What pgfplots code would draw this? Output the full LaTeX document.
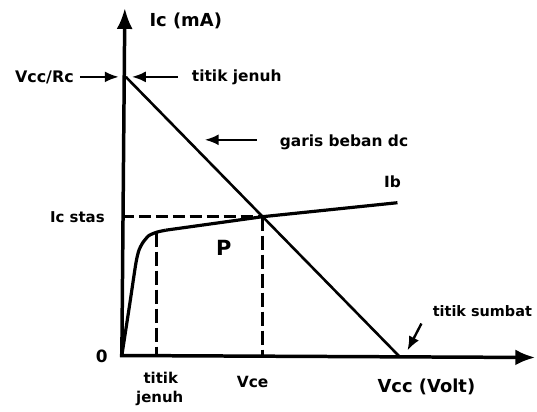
\documentclass[border=0pt]{standalone}
\usepackage{pgfplots}
\pgfplotsset{compat=1.18}
\usepackage{fontspec}
\setmainfont{DejaVu Sans}
\usetikzlibrary{arrows.meta}
\newcommand{\fs}[1]{\fontsize{#1}{#1}\selectfont\bfseries}
\begin{document}
\begin{tikzpicture}
\begin{axis}[scale only axis, width=537bp, height=412bp,
  xmin=0, xmax=537, ymin=0, ymax=412, hide axis, clip=false]
% frame for bounding box
\addplot[draw=none] coordinates {(0,0) (537,412)};
% axes
\addplot[line width=3.5bp, -{Latex[length=21bp,width=16bp]}] coordinates {(122,55) (125,404)};
\addplot[line width=3.5bp, -{Latex[length=20bp,width=16bp]}] coordinates {(120,56) (536,54)};
% load line
\addplot[line width=2.6bp] coordinates {(126,335) (400,55)};
% dashed guides
\addplot[line width=2.8bp, dash pattern=on 12bp off 5bp] coordinates {(122,195) (263,195)};
\addplot[line width=2.8bp, dash pattern=on 14bp off 5bp] coordinates {(263,195) (263,56)};
\addplot[line width=2.8bp, dash pattern=on 14bp off 5bp] coordinates {(157,179) (157,56)};
% Ib curve
\addplot[line width=3.2bp, line join=round, smooth, tension=0.4] coordinates {
 (122,56) (130,108) (136,148) (139,161) (143,169) (149,176) (157,179.5) (166,181.5)};
\addplot[line width=3.2bp, line join=round] coordinates {(166,181.5) (263,195) (398,209)};
% annotation arrows
\addplot[line width=2.4bp, -{Latex[length=14bp,width=11bp]}] coordinates {(80,335) (119,335)};
\addplot[line width=2.4bp, -{Latex[length=14bp,width=11bp]}] coordinates {(178,335) (132,335)};
\addplot[line width=2.4bp, -{Latex[length=14bp,width=11bp]}] coordinates {(257,272) (205,272)};
\addplot[line width=2.4bp, -{Latex[length=14bp,width=11bp]}] coordinates {(422,88) (408,61)};
% labels
\node[anchor=base, inner sep=0pt] at (axis cs:186,385) {\fs{18}Ic (mA)};
\node[anchor=base east, inner sep=0pt] at (axis cs:74,329) {\fs{16}Vcc/Rc};
\node[anchor=base west, inner sep=0pt] at (axis cs:192,330) {\fs{15.5}titik jenuh};
\node[anchor=base west, inner sep=0pt] at (axis cs:280,265) {\fs{15.5}garis beban dc};
\node[anchor=base, inner sep=0pt] at (axis cs:393,224) {\fs{15.5}Ib};
\node[anchor=base east, inner sep=0pt] at (axis cs:105,189) {\fs{15}Ic stas};
\node[anchor=base, inner sep=0pt] at (axis cs:224,156) {\fs{21}P};
\node[anchor=base, inner sep=0pt] at (axis cs:102,49) {\fs{17}0};
\node[anchor=base, inner sep=0pt] at (axis cs:161,28) {\fs{15}titik};
\node[anchor=base, inner sep=0pt] at (axis cs:160,9) {\fs{15}jenuh};
\node[anchor=base, inner sep=0pt] at (axis cs:253,24) {\fs{15.5}Vce};
\node[anchor=base, inner sep=0pt] at (axis cs:427,19) {\fs{18}Vcc (Volt)};
\node[anchor=base, inner sep=0pt] at (axis cs:483,95) {\fs{14.5}titik sumbat};
\end{axis}
\end{tikzpicture}
\end{document}
